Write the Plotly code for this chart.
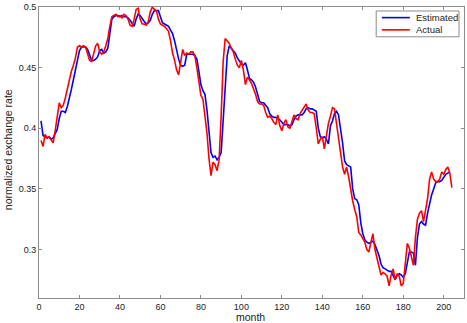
import plotly.graph_objects as go

months_actual = list(range(1, 205))
months_est = list(range(1, 204))

actual = [
    0.390, 0.385, 0.395, 0.392, 0.393, 0.390, 0.388, 0.398, 0.408, 0.421,
    0.417, 0.419, 0.425, 0.433, 0.440, 0.447, 0.452, 0.458, 0.467, 0.468,
    0.467, 0.468, 0.467, 0.462, 0.456, 0.455, 0.462, 0.468, 0.470, 0.463,
    0.461, 0.463, 0.468, 0.474, 0.484, 0.492, 0.493, 0.494, 0.492, 0.493,
    0.491, 0.494, 0.493, 0.490, 0.485, 0.484, 0.490, 0.498, 0.499, 0.490,
    0.486, 0.486, 0.485, 0.488, 0.496, 0.500, 0.498, 0.497, 0.490, 0.486,
    0.485, 0.484, 0.482, 0.480, 0.472, 0.462, 0.456, 0.448, 0.444, 0.455,
    0.465, 0.460, 0.462, 0.461, 0.463, 0.463, 0.460, 0.450, 0.437, 0.427,
    0.424, 0.412, 0.396, 0.375, 0.361, 0.372, 0.370, 0.365, 0.374, 0.410,
    0.455, 0.474, 0.472, 0.470, 0.466, 0.463, 0.457, 0.452, 0.450, 0.456,
    0.448, 0.436, 0.442, 0.440, 0.437, 0.433, 0.428, 0.422, 0.420, 0.420,
    0.419, 0.413, 0.409, 0.410, 0.408, 0.405, 0.403, 0.411, 0.402, 0.398,
    0.404, 0.407, 0.401, 0.400, 0.406, 0.411, 0.408, 0.407, 0.412, 0.415,
    0.418, 0.420, 0.415, 0.413, 0.413, 0.412, 0.400, 0.387, 0.391, 0.393,
    0.383, 0.395, 0.404, 0.410, 0.417, 0.416, 0.405, 0.391, 0.380, 0.368,
    0.362, 0.368, 0.360, 0.348, 0.340, 0.333, 0.327, 0.314, 0.312, 0.309,
    0.306, 0.300, 0.298, 0.306, 0.313, 0.300, 0.293, 0.288, 0.279, 0.281,
    0.280, 0.278, 0.270, 0.279, 0.284, 0.275, 0.280, 0.278, 0.270, 0.272,
    0.290, 0.305, 0.301, 0.295, 0.287, 0.310, 0.325, 0.330, 0.332, 0.323,
    0.332, 0.342, 0.358, 0.364, 0.358, 0.356, 0.356, 0.358, 0.364, 0.362,
    0.366, 0.368, 0.363, 0.351,
]

estimated = [
    0.406, 0.394, 0.393, 0.392, 0.393, 0.391, 0.392, 0.395, 0.399, 0.408,
    0.414, 0.414, 0.413, 0.418, 0.424, 0.432, 0.440, 0.449, 0.457, 0.464,
    0.467, 0.467, 0.467, 0.465, 0.461, 0.456, 0.456, 0.457, 0.459, 0.464,
    0.465, 0.462, 0.463, 0.466, 0.478, 0.490, 0.492, 0.493, 0.493, 0.492,
    0.493, 0.492, 0.492, 0.491, 0.489, 0.486, 0.484, 0.490, 0.494, 0.493,
    0.490, 0.488, 0.486, 0.487, 0.489, 0.494, 0.497, 0.497, 0.497, 0.492,
    0.487, 0.486, 0.485, 0.484, 0.481, 0.478, 0.472, 0.463, 0.457, 0.452,
    0.451, 0.452, 0.461, 0.461, 0.461, 0.461, 0.460, 0.457, 0.447, 0.436,
    0.431, 0.428, 0.415, 0.398, 0.380, 0.376, 0.377, 0.374, 0.376, 0.380,
    0.405, 0.435, 0.460, 0.468, 0.466, 0.464, 0.462, 0.458, 0.455, 0.453,
    0.452, 0.454, 0.448, 0.441, 0.440, 0.438, 0.434, 0.428, 0.422, 0.421,
    0.421, 0.419, 0.417, 0.412, 0.410, 0.409, 0.409, 0.408, 0.407, 0.405,
    0.403, 0.403, 0.403, 0.402, 0.403, 0.407, 0.410, 0.411, 0.411, 0.411,
    0.413, 0.416, 0.417, 0.416, 0.416, 0.415, 0.414, 0.400, 0.393, 0.392,
    0.393, 0.391, 0.387, 0.402, 0.406, 0.412, 0.414, 0.411, 0.400, 0.388,
    0.373, 0.370, 0.369, 0.368, 0.350, 0.342, 0.341, 0.337, 0.322, 0.313,
    0.308, 0.306, 0.305, 0.306, 0.307, 0.304, 0.300, 0.295, 0.288, 0.285,
    0.284, 0.283, 0.282, 0.282, 0.278, 0.275, 0.279, 0.280, 0.279, 0.277,
    0.280, 0.290, 0.298, 0.298, 0.297, 0.287, 0.310, 0.321, 0.323, 0.321,
    0.320, 0.330, 0.338, 0.345, 0.350, 0.355, 0.356, 0.356, 0.357, 0.360,
    0.362, 0.363, 0.364,
]

x_ticks = [0, 20, 40, 60, 80, 100, 120, 140, 160, 180, 200]
y_ticks = [0.3, 0.35, 0.4, 0.45, 0.5]
y_tick_labels = ["0.3", "0.35", "0.4", "0.45", "0.5"]
series_names = ["Estimated", "Actual"]
series_colors = ["#0000ff", "#ff0000"]

FONT = "Liberation Sans, Arial, sans-serif"
AXC = "#8c8c8c"

fig = go.Figure()
fig.add_trace(go.Scatter(x=months_est, y=estimated, mode="lines", name=series_names[0],
                         line=dict(color=series_colors[0], width=1.6)))
fig.add_trace(go.Scatter(x=months_actual, y=actual, mode="lines", name=series_names[1],
                         line=dict(color=series_colors[1], width=1.6)))

axis_common = dict(showgrid=False, zeroline=False, showline=True, linecolor=AXC,
                   linewidth=1, mirror="ticks", ticks="inside", ticklen=3,
                   tickcolor=AXC, tickfont=dict(family=FONT, size=9, color="#222"))

# legend drawn as a box with sample lines and labels (paper coordinates)
shapes = [dict(type="rect", xref="paper", yref="paper", x0=0.7934, x1=0.9883,
               y0=0.8976, y1=0.9863, line=dict(color=AXC, width=1), fillcolor="white")]
annotations = []
legend_rows = [0.9635, 0.9215]
for name, color, yr in zip(series_names, series_colors, legend_rows):
    shapes.append(dict(type="line", xref="paper", yref="paper", x0=0.8068, x1=0.8725,
                       y0=yr, y1=yr, line=dict(color=color, width=1.6)))
    annotations.append(dict(text=name, xref="paper", yref="paper", x=0.8815, y=yr,
                            xanchor="left", yanchor="middle", showarrow=False,
                            font=dict(family=FONT, size=9.5, color="#222")))

annotations += [
    dict(text="month", xref="paper", yref="paper", x=0.497, y=-0.064,
         xanchor="center", yanchor="middle", showarrow=False,
         font=dict(family=FONT, size=10.5, color="#222")),
    dict(text="normalized exchange rate", xref="paper", yref="paper",
         x=-0.074, y=0.51, xanchor="center", yanchor="middle",
         textangle=-90, showarrow=False,
         font=dict(family=FONT, size=10.5, color="#222")),
]

fig.update_layout(
    width=467, height=323,
    margin=dict(l=39, r=2, t=5, b=25),
    paper_bgcolor="white", plot_bgcolor="white",
    font=dict(family=FONT, size=9, color="#222"),
    xaxis=dict(range=[0, 210], tickvals=x_ticks, **axis_common),
    yaxis=dict(range=[0.26, 0.5], tickvals=y_ticks, ticktext=y_tick_labels, **axis_common),
    showlegend=False,
    hovermode=False,
    shapes=shapes,
    annotations=annotations,
)

fig.write_html("out.html", config={"displayModeBar": False},
               post_script="document.body.style.margin='0';document.body.style.padding='0';")
